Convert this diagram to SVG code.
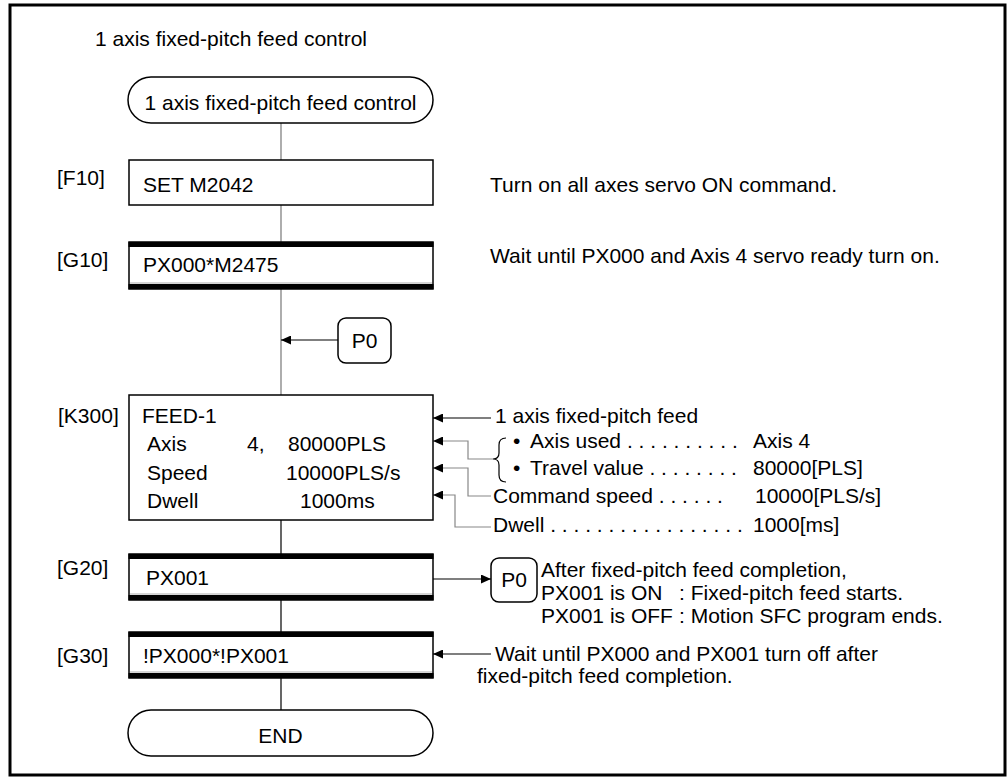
<svg xmlns="http://www.w3.org/2000/svg" width="1008" height="779" viewBox="0 0 1008 779">
<style>
text{font-family:"Liberation Sans",Arial,sans-serif;font-size:21px;fill:#000}
.box{fill:#fff;stroke:#000;stroke-width:1.5}
.bar{fill:#000}
.sh{stroke:#aaa;stroke-width:1;fill:none}
.cg{stroke:#777;stroke-width:1.2;fill:none}
.cb{stroke:#000;stroke-width:1.2;fill:none}
.lg{stroke:#888;stroke-width:1.2;fill:none}
</style>
<defs>
<marker id="ah" markerUnits="userSpaceOnUse" markerWidth="11" markerHeight="9" refX="10" refY="4.5" orient="auto">
<path d="M0,0 L10,4.5 L0,9 z" fill="#000"/>
</marker>
</defs>
<rect x="10" y="5" width="995" height="770" fill="#fff" stroke="#000" stroke-width="3"/>
<text x="95" y="46">1 axis fixed-pitch feed control</text>

<g id="connectors">
<line class="cg" x1="281" y1="123" x2="281" y2="160"/>
<line class="cg" x1="281" y1="205" x2="281" y2="242"/>
<line class="cg" x1="281" y1="289" x2="281" y2="395"/>
<line class="cb" x1="281" y1="520" x2="281" y2="554"/>
<line class="cb" x1="281" y1="600" x2="281" y2="632"/>
<line class="cb" x1="281" y1="678" x2="281" y2="710"/>
<line class="cb" x1="338" y1="340" x2="281" y2="340" marker-end="url(#ah)"/>
<line class="cb" x1="433" y1="579" x2="491" y2="579" marker-end="url(#ah)"/>
<line class="cb" x1="491" y1="418" x2="433" y2="418" marker-end="url(#ah)"/>
<polyline class="lg" points="493,459 468,459 468,441 433,441" marker-end="url(#ah)"/>
<polyline class="lg" points="491,496 468,496 468,468 433,468" marker-end="url(#ah)"/>
<polyline class="lg" points="491,527 455,527 455,495 433,495" marker-end="url(#ah)"/>
<line class="cb" x1="491" y1="654" x2="433" y2="654" marker-end="url(#ah)"/>
</g>

<g id="start">
<rect class="box" x="128" y="77" width="305" height="46" rx="23"/>
<text x="280.5" y="110" text-anchor="middle">1 axis fixed-pitch feed control</text>
</g>

<g id="F10">
<text x="57" y="185">[F10]</text>
<rect class="box" x="129" y="160" width="304" height="45"/>
<text x="143" y="192">SET M2042</text>
<text x="490" y="192">Turn on all axes servo ON command.</text>
</g>

<g id="G10">
<text x="57" y="267">[G10]</text>
<rect class="box" x="129" y="242" width="304" height="47"/>
<rect class="bar" x="128.5" y="242" width="305" height="5"/>
<line class="sh" x1="130" y1="283" x2="432" y2="283"/>
<rect class="bar" x="128.5" y="284" width="305" height="5"/>
<text x="143" y="272">PX000*M2475</text>
<text x="490" y="263">Wait until PX000 and Axis 4 servo ready turn on.</text>
</g>

<g id="P0a">
<rect class="box" x="338" y="318" width="53" height="45" rx="8"/>
<text x="364.5" y="348" text-anchor="middle">P0</text>
</g>

<g id="K300">
<text x="58" y="423">[K300]</text>
<rect class="box" x="129" y="395" width="304" height="125"/>
<text x="142" y="423">FEED-1</text>
<text x="147" y="451">Axis</text>
<text x="247" y="451">4,</text>
<text x="288" y="451">80000PLS</text>
<text x="147" y="480">Speed</text>
<text x="286" y="480">10000PLS/s</text>
<text x="147" y="508">Dwell</text>
<text x="300" y="508">1000ms</text>
</g>

<g id="K300-notes">
<text x="495" y="423">1 axis fixed-pitch feed</text>
<path d="M506,438 Q499,438 499,445 L499,453 Q499,459 493,459 Q499,459 499,465 L499,475 Q499,482 506,482" fill="none" stroke="#000" stroke-width="1.2"/>
<text x="513" y="448">•</text>
<text x="530" y="448">Axis used . . . . . . . . . .</text>
<text x="753" y="448">Axis 4</text>
<text x="513" y="475">•</text>
<text x="530" y="475">Travel value . . . . . . . .</text>
<text x="753" y="475">80000[PLS]</text>
<text x="493" y="503">Command speed . . . . . .</text>
<text x="755" y="503">10000[PLS/s]</text>
<text x="493" y="532">Dwell . . . . . . . . . . . . . . . . .</text>
<text x="753" y="532">1000[ms]</text>
</g>

<g id="G20">
<text x="57" y="575">[G20]</text>
<rect class="box" x="129" y="554" width="304" height="46"/>
<rect class="bar" x="128.5" y="554" width="305" height="5"/>
<line class="sh" x1="130" y1="594" x2="432" y2="594"/>
<rect class="bar" x="128.5" y="595" width="305" height="5"/>
<text x="146" y="585">PX001</text>
</g>

<g id="P0b">
<rect class="box" x="491" y="558" width="46" height="44" rx="8"/>
<text x="514" y="587" text-anchor="middle">P0</text>
<text x="541" y="577">After fixed-pitch feed completion,</text>
<text x="541" y="600">PX001 is ON<tspan x="679">: Fixed-pitch feed starts.</tspan></text>
<text x="541" y="623">PX001 is OFF<tspan x="679">: Motion SFC program ends.</tspan></text>
</g>

<g id="G30">
<text x="57" y="663">[G30]</text>
<rect class="box" x="129" y="632" width="304" height="46"/>
<rect class="bar" x="128.5" y="632" width="305" height="5"/>
<line class="sh" x1="130" y1="672" x2="432" y2="672"/>
<rect class="bar" x="128.5" y="673" width="305" height="5"/>
<text x="143" y="663">!PX000*!PX001</text>
<text x="495" y="661">Wait until PX000 and PX001 turn off after</text>
<text x="477" y="683">fixed-pitch feed completion.</text>
</g>

<g id="end">
<rect class="box" x="128" y="710" width="305" height="46" rx="23"/>
<text x="280.5" y="743" text-anchor="middle">END</text>
</g>
</svg>
